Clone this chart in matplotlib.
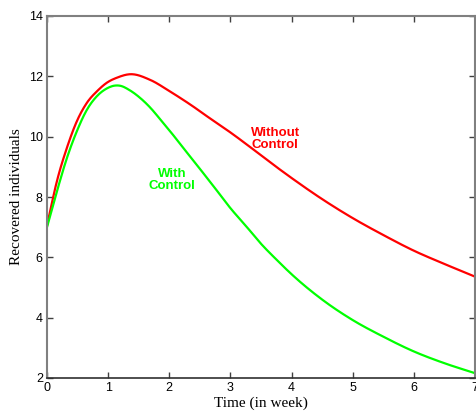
import numpy as np
import matplotlib
matplotlib.use("Agg")
from matplotlib import pyplot as plt

# values
t_without = [0, 0.164, 0.327, 0.49, 0.655, 0.82, 0.98, 1.15, 1.36, 1.69, 2.01, 2.34, 2.67,
             3.0, 3.32, 3.65, 4.0, 4.5, 5.0, 5.5, 6.0, 6.5, 7.0]
without_ctrl = [7.05, 8.54, 9.64, 10.52, 11.13, 11.51, 11.79, 11.96, 12.07, 11.88, 11.5, 11.07,
                10.6, 10.14, 9.66, 9.15, 8.63, 7.93, 7.3, 6.74, 6.22, 5.78, 5.36]
t_with = [0, 0.164, 0.327, 0.49, 0.655, 0.82, 0.98, 1.1, 1.19, 1.36, 1.52, 1.69, 1.85, 2.01,
          2.18, 2.42, 2.73, 3.0, 3.27, 3.5, 3.75, 4.0, 4.5, 5.0, 5.5, 6.0, 6.5, 7.0]
with_ctrl = [7.0, 8.2, 9.3, 10.19, 10.9, 11.35, 11.6, 11.69, 11.69, 11.53, 11.29, 10.96, 10.58,
             10.19, 9.75, 9.14, 8.34, 7.63, 7.0, 6.45, 5.93, 5.44, 4.6, 3.92, 3.37, 2.88, 2.49, 2.16]
x_ticks = list(range(0, 8))
y_ticks = [2, 4, 6, 8, 10, 12, 14]

fig = plt.figure(figsize=(4.76, 4.17), dpi=100)
ax = fig.add_axes([47/476, 39/417, 428/476, 362/417])

tt = np.linspace(0, 7, 500)

#cubic hermite through the read points so the lines come out smooth
def smooth(xs, ys):
  xs = np.array(xs, dtype=float); ys = np.array(ys, dtype=float)
  d = np.gradient(ys, xs)
  out = np.empty_like(tt)
  for k, x in enumerate(tt):
    i = min(np.searchsorted(xs, x, side='right') - 1, len(xs) - 2)
    h = xs[i+1] - xs[i]; s = (x - xs[i]) / h
    h00 = 2*s**3 - 3*s**2 + 1; h10 = s**3 - 2*s**2 + s
    h01 = -2*s**3 + 3*s**2; h11 = s**3 - s**2
    out[k] = h00*ys[i] + h10*h*d[i] + h01*ys[i+1] + h11*h*d[i+1]
  return out

ax.plot(tt, smooth(t_without, without_ctrl), color='#ff0000', lw=1.6)
ax.plot(tt, smooth(t_with, with_ctrl), color='#00ff00', lw=1.6)

ax.text(3.73, 9.91, "Without\nControl", color='#ff0000', fontsize=9.5, fontweight='bold',
        family='Liberation Sans', ha='center', va='center', linespacing=1.0)
ax.text(2.05, 8.56, "With\nControl", color='#00ff00', fontsize=9.5, fontweight='bold',
        family='Liberation Sans', ha='center', va='center', linespacing=1.0)

ax.set_xlim(0, 7)
ax.set_ylim(2, 14)
ax.set_xticks(x_ticks)
ax.set_yticks(y_ticks)
ax.tick_params(direction='in', top=True, right=True, length=4, width=1, color='#404040',
               labelsize=9, pad=3)
for lab in ax.get_xticklabels() + ax.get_yticklabels():
  lab.set_family('Liberation Sans')
for side in ['left', 'top', 'right']:
  ax.spines[side].set_color('#808080')
  ax.spines[side].set_linewidth(1.5)
ax.spines['bottom'].set_color('#303030')
ax.spines['bottom'].set_linewidth(1.2)

ax.set_xlabel("Time (in week)", family='Liberation Serif', fontsize=11, labelpad=2)
ax.set_ylabel("Recovered individuals", family='Liberation Serif', fontsize=11, labelpad=4)

fig.savefig("out.png", dpi=100)
